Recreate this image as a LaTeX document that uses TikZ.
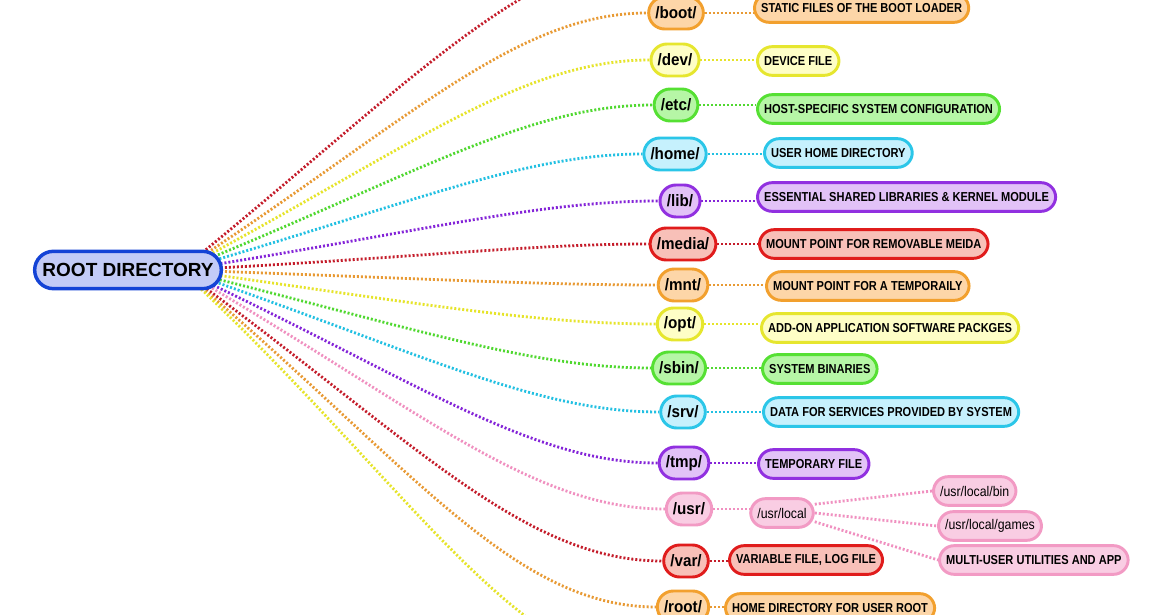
\documentclass[tikz,border=0pt]{standalone}
\usepackage{fontspec}
\setmainfont{Liberation Sans}
\newfontfamily\dirfam[FakeStretch=0.92]{Liberation Sans}
\newfontfamily\descfam[FakeStretch=0.85]{Liberation Sans}
\newfontfamily\subfam[FakeStretch=0.88]{Liberation Sans}
\usetikzlibrary{backgrounds}
% colours: b = border, f = fill, l = connector
\definecolor{ob}{HTML}{F2A02E}\definecolor{of}{HTML}{FDD6A8}\definecolor{ol}{HTML}{E89A34}
\definecolor{yb}{HTML}{E6E62E}\definecolor{yf}{HTML}{FEFEC6}\definecolor{yl}{HTML}{E6E42A}
\definecolor{gb}{HTML}{55E033}\definecolor{gf}{HTML}{B6F6A6}\definecolor{gl}{HTML}{50D830}
\definecolor{cb}{HTML}{2BC6E8}\definecolor{cf}{HTML}{C6F1FD}\definecolor{cl}{HTML}{22C0E2}
\definecolor{pb}{HTML}{9130E0}\definecolor{pf}{HTML}{E2C2F7}\definecolor{pl}{HTML}{8424D8}
\definecolor{rb}{HTML}{E01C1C}\definecolor{rf}{HTML}{F8C0B8}\definecolor{rl}{HTML}{C41C2A}
\definecolor{kb}{HTML}{F29AC4}\definecolor{kf}{HTML}{F9CDE3}\definecolor{kl}{HTML}{F090C0}
\definecolor{bb}{HTML}{1443D6}\definecolor{bf}{HTML}{C3CBF7}
\begin{document}
\begin{tikzpicture}[x=0.75pt,y=0.75pt,
  rootbox/.style={draw=bb, fill=bf, line width=2.6pt, rounded corners=14pt,
    minimum width=140pt, minimum height=28pt, inner sep=0pt,
    font=\bfseries\fontsize{14.25}{16}\selectfont},
  dirbox/.style={draw=#1b, fill=#1f, line width=2.2pt, rounded corners=12pt,
    minimum height=24pt, minimum width=30pt, inner xsep=5pt, inner ysep=0pt,
    font=\dirfam\bfseries\fontsize{12.4}{14}\selectfont},
  descbox/.style={draw=#1b, fill=#1f, line width=2.2pt, rounded corners=11pt,
    minimum height=21.5pt, inner xsep=5pt, inner ysep=0pt, anchor=west,
    font=\descfam\bfseries\fontsize{9.75}{11}\selectfont},
  subbox/.style={draw=kb, fill=kf, line width=2.2pt, rounded corners=11pt,
    minimum height=21.5pt, inner xsep=5pt, inner ysep=0pt,
    font=\subfam\fontsize{10.5}{12}\selectfont},
  conn/.style={draw=#1l, line width=2.1pt, dash pattern=on 1.5pt off 1.5pt},
  fan/.style={out=#1, in=180, out looseness=1.28, in looseness=0.64},
]
\useasboundingbox (0,0) rectangle (1169,614);
\clip (0,0) rectangle (1169,614);

\node[rootbox] (rd) at (128,344) {ROOT DIRECTORY};
\coordinate (hub) at (181,344);
\coordinate (binend) at (676,664);
\coordinate (lowend) at (676,-61);

\node[dirbox=o] (boot) at (676,601) {/boot/};
\node[descbox=o] (bootd) at (753,606) {STATIC FILES OF THE BOOT LOADER};
\node[dirbox=y] (dev) at (675,554) {/dev/};
\node[descbox=y] (devd) at (756,553) {DEVICE FILE};
\node[dirbox=g] (etc) at (676,509) {/etc/};
\node[descbox=g] (etcd) at (756,505) {HOST-SPECIFIC SYSTEM CONFIGURATION};
\node[dirbox=c] (home) at (675,460) {/home/};
\node[descbox=c] (homed) at (763,461) {USER HOME DIRECTORY};
\node[dirbox=p] (lib) at (680,413) {/lib/};
\node[descbox=p] (libd) at (756,417) {ESSENTIAL SHARED LIBRARIES \& KERNEL MODULE};
\node[dirbox=r] (media) at (683,370) {/media/};
\node[descbox=r] (mediad) at (758,370) {MOUNT POINT FOR REMOVABLE MEIDA};
\node[dirbox=o] (mnt) at (683,329) {/mnt/};
\node[descbox=o] (mntd) at (765,328) {MOUNT POINT FOR A TEMPORAILY};
\node[dirbox=y] (opt) at (680,290) {/opt/};
\node[descbox=y] (optd) at (760,286) {ADD-ON APPLICATION SOFTWARE PACKGES};
\node[dirbox=g] (sbin) at (679,246) {/sbin/};
\node[descbox=g] (sbind) at (761,245) {SYSTEM BINARIES};
\node[dirbox=c] (srv) at (683,202) {/srv/};
\node[descbox=c] (srvd) at (762,202) {DATA FOR SERVICES PROVIDED BY SYSTEM};
\node[dirbox=p] (tmp) at (684,151) {/tmp/};
\node[descbox=p] (tmpd) at (757,150) {TEMPORARY FILE};
\node[dirbox=k] (usr) at (689,105) {/usr/};
\node[subbox] (ul) at (782,101) {/usr/local};
\node[subbox, anchor=west] (ulbin) at (932,123) {/usr/local/bin};
\node[subbox, anchor=west] (ulgames) at (937,88) {/usr/local/games};
\node[descbox=k] (ulmulti) at (938,54) {MULTI-USER UTILITIES AND APP};
\node[dirbox=r] (var) at (686,53) {/var/};
\node[descbox=r] (vard) at (728,54) {VARIABLE FILE, LOG FILE};
\node[dirbox=o] (rootdir) at (683,7) {/root/};
\node[descbox=o] (rootd) at (724,6) {HOME DIRECTORY FOR USER ROOT};

\begin{scope}[on background layer]
\fill[white] (0,0) rectangle (1169,614);
\draw[conn=r] (hub) to[fan=39] (binend);
\draw[conn=o] (hub) to[fan=33] (boot.west);
\draw[conn=y] (hub) to[fan=28] (dev.west);
\draw[conn=g] (hub) to[fan=22] (etc.west);
\draw[conn=c] (hub) to[fan=16] (home.west);
\draw[conn=p] (hub) to[fan=9] (lib.west);
\draw[conn=r] (hub) to[fan=3] (media.west);
\draw[conn=o] (hub) to[fan=-2] (mnt.west);
\draw[conn=y] (hub) to[fan=-8] (opt.west);
\draw[conn=g] (hub) to[fan=-14] (sbin.west);
\draw[conn=c] (hub) to[fan=-19] (srv.west);
\draw[conn=p] (hub) to[fan=-25] (tmp.west);
\draw[conn=k] (hub) to[fan=-30] (usr.west);
\draw[conn=r] (hub) to[fan=-36] (var.west);
\draw[conn=o] (hub) to[fan=-40] (rootdir.west);
\draw[conn=y] (hub) to[fan=-43] (lowend);

\draw[conn=o] (boot.east) -- (boot.east -| bootd.west);
\draw[conn=y] (dev.east) -- (dev.east -| devd.west);
\draw[conn=g] (etc.east) -- (etc.east -| etcd.west);
\draw[conn=c] (home.east) -- (home.east -| homed.west);
\draw[conn=p] (lib.east) -- (lib.east -| libd.west);
\draw[conn=r] (media.east) -- (media.east -| mediad.west);
\draw[conn=o] (mnt.east) -- (mnt.east -| mntd.west);
\draw[conn=y] (opt.east) -- (opt.east -| optd.west);
\draw[conn=g] (sbin.east) -- (sbin.east -| sbind.west);
\draw[conn=c] (srv.east) -- (srv.east -| srvd.west);
\draw[conn=p] (tmp.east) -- (tmp.east -| tmpd.west);
\draw[conn=k] (usr.east) -- (usr.east -| ul.west);
\draw[conn=k] (ul.15) -- (ulbin.west);
\draw[conn=k] (ul.east) -- (ulgames.west);
\draw[conn=k] (ul.-15) -- (ulmulti.west);
\draw[conn=r] (var.east) -- (var.east -| vard.west);
\draw[conn=o] (rootdir.east) -- (rootdir.east -| rootd.west);
\end{scope}
\end{tikzpicture}
\end{document}
